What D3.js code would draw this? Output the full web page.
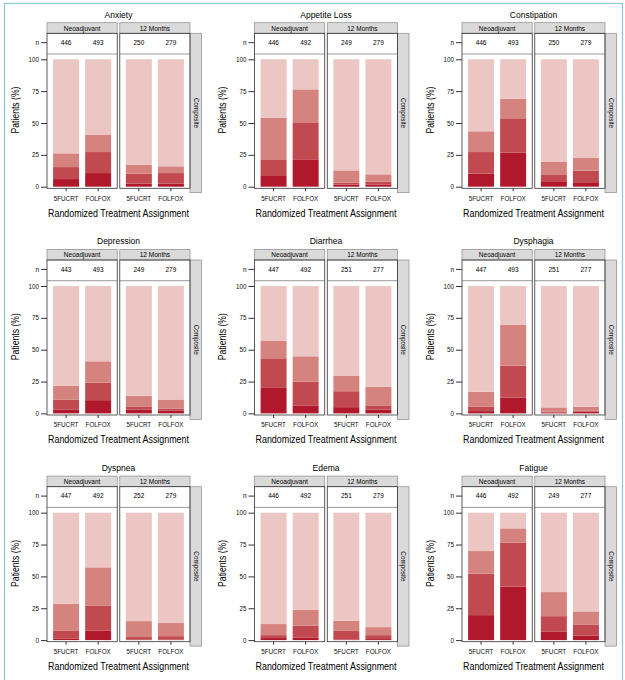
<!DOCTYPE html>
<html>
<head>
<meta charset="utf-8">
<script src="https://cdn.jsdelivr.net/npm/d3@7"></script>
<style>
  body { margin: 0; background: #fff; }
  svg { display: block; font-family: "Liberation Sans", Arial, Helvetica, sans-serif; }
</style>
</head>
<body>
<div id="chart"></div>
<script>
// symptoms in reading order (3 x 3 grid)
const symptoms = ["Anxiety", "Appetite Loss", "Constipation", "Depression", "Diarrhea",
  "Dysphagia", "Dyspnea", "Edema", "Fatigue"];
const timepoints = ["Neoadjuvant", "12 Months"];
const arms = ["5FUCRT", "FOLFOX"];
const yTicks = [0, 25, 50, 75, 100];

// each row: [Neoadjuvant 5FUCRT, Neoadjuvant FOLFOX, 12 Months 5FUCRT, 12 Months FOLFOX]
const nPatients = [
  [446, 493, 250, 279],
  [446, 492, 249, 279],
  [446, 493, 250, 279],
  [443, 493, 249, 279],
  [447, 492, 251, 277],
  [447, 493, 251, 277],
  [447, 492, 252, 279],
  [446, 492, 251, 279],
  [446, 492, 249, 277]
];

// percent of patients per level (bottom to top of each bar)
const veryMuch = [
  [6.0, 10.7, 2.4, 2.4],
  [8.4, 21.5, 1.6, 1.8],
  [10.2, 26.7, 3.7, 2.9],
  [3.1, 10.4, 3.1, 2.3],
  [20.0, 6.3, 4.9, 2.9],
  [1.8, 12.5, 0.8, 1.3],
  [1.0, 7.3, 0.5, 0.5],
  [1.6, 1.8, 0.5, 0.8],
  [19.6, 41.9, 6.5, 3.4]
];
const quiteABit = [
  [9.4, 16.5, 7.8, 8.3],
  [13.1, 28.5, 1.5, 2.1],
  [17.0, 27.0, 5.5, 9.7],
  [7.8, 13.8, 2.4, 1.3],
  [22.7, 18.7, 12.5, 3.4],
  [3.4, 25.0, 0.5, 1.0],
  [6.6, 19.9, 1.9, 2.6],
  [2.3, 9.5, 7.1, 3.1],
  [32.5, 34.5, 12.3, 8.9]
];
const aLittle = [
  [10.8, 13.4, 7.1, 5.3],
  [32.7, 26.4, 9.7, 5.8],
  [16.3, 15.4, 10.2, 9.9],
  [10.7, 16.7, 8.3, 7.3],
  [14.1, 19.8, 12.3, 14.5],
  [11.7, 32.0, 3.4, 2.9],
  [20.9, 29.9, 12.5, 10.3],
  [8.7, 12.3, 7.6, 6.3],
  [17.8, 11.3, 18.9, 10.2]
];
const notAtAll = [
  [73.8, 59.4, 82.7, 84.0],
  [45.8, 23.6, 87.2, 90.3],
  [56.5, 30.9, 80.6, 77.5],
  [78.4, 59.1, 86.2, 89.1],
  [43.2, 55.2, 70.3, 79.2],
  [83.1, 30.5, 95.3, 94.8],
  [71.5, 42.9, 85.1, 86.6],
  [87.4, 76.4, 84.8, 89.8],
  [30.1, 12.3, 62.3, 77.5]
];

const levels = ["veryMuch", "quiteABit", "aLittle", "notAtAll"];
const levelColors = ["#b0182c", "#c14a50", "#d5837e", "#ecc6c2"];

const width = 625, height = 680;
const colStep = 207.5, rowStep = 226.7;

const svg = d3.select("#chart").append("svg")
  .attr("width", width)
  .attr("height", height);

// light blue frame round the figure
svg.append("rect")
  .attr("x", 4.5).attr("y", 3.5)
  .attr("width", 618).attr("height", 700)
  .attr("fill", "none")
  .attr("stroke", "#8fc3d8")
  .attr("stroke-width", 1.2);

// panel geometry (local coords)
const facetX = d3.scaleBand().domain(timepoints).range([47, 190]).paddingInner(0.035);
const armX = d3.scaleBand().domain(arms).range([0, facetX.bandwidth()]).padding(0.19);
const y = d3.scaleLinear().domain([0, 100]).range([186.7, 59.3]);
const color = d3.scaleOrdinal().domain(levels).range(levelColors);
const stack = d3.stack().keys(levels);

const stripTop = 22.7, stripBot = 33.3, nBot = 54, boxBot = 188.3;

symptoms.forEach((name, si) => {
  const g = svg.append("g")
    .attr("transform", `translate(${(si % 3) * colStep}, ${Math.floor(si / 3) * rowStep})`);

  // title
  g.append("text")
    .attr("x", (facetX.range()[0] + facetX.range()[1]) / 2)
    .attr("y", 17.7)
    .attr("text-anchor", "middle")
    .style("font-size", "8.5px")
    .text(name);

  // composite strip on the right
  g.append("rect")
    .attr("x", 190).attr("y", stripBot)
    .attr("width", 11.5).attr("height", 192.7 - stripBot)
    .attr("fill", "#dadada")
    .attr("stroke", "#8a8a8a")
    .attr("stroke-width", 0.7);
  g.append("text")
    .attr("transform", `translate(193.8, ${(stripBot + 192.7) / 2}) rotate(90)`)
    .attr("text-anchor", "middle")
    .style("font-size", "6.3px")
    .text("Composite");

  timepoints.forEach((tp, ti) => {
    const fx = facetX(tp);
    const fw = facetX.bandwidth();
    const fg = g.append("g").attr("transform", `translate(${fx}, 0)`);

    // strip
    fg.append("rect")
      .attr("x", 0).attr("y", stripTop)
      .attr("width", fw).attr("height", stripBot - stripTop)
      .attr("fill", "#dadada")
      .attr("stroke", "#8a8a8a")
      .attr("stroke-width", 0.7);
    fg.append("text")
      .attr("x", fw / 2).attr("y", 30.6)
      .attr("text-anchor", "middle")
      .style("font-size", "6.5px")
      .text(tp);

    // bars
    const rows = arms.map((arm, ai) => {
      const k = ti * 2 + ai;
      return {
        arm,
        veryMuch: veryMuch[si][k],
        quiteABit: quiteABit[si][k],
        aLittle: aLittle[si][k],
        notAtAll: notAtAll[si][k]
      };
    });
    const series = stack(rows);
    fg.selectAll(".layer")
      .data(series)
      .enter()
      .append("g")
      .attr("class", "layer")
      .attr("fill", d => color(d.key))
      .selectAll("rect")
      .data(d => d)
      .enter()
      .append("rect")
      .attr("x", d => armX(d.data.arm))
      .attr("y", d => y(d[1]))
      .attr("width", armX.bandwidth())
      .attr("height", d => y(d[0]) - y(d[1]));

    // n counts
    fg.selectAll(".ncount")
      .data(arms)
      .enter()
      .append("text")
      .attr("class", "ncount")
      .attr("x", d => armX(d) + armX.bandwidth() / 2)
      .attr("y", 45)
      .attr("text-anchor", "middle")
      .style("font-size", "6.5px")
      .text((d, ai) => nPatients[si][ti * 2 + ai]);

    // panel box + divider under n row
    fg.append("rect")
      .attr("x", 0).attr("y", stripBot)
      .attr("width", fw).attr("height", boxBot - stripBot)
      .attr("fill", "none")
      .attr("stroke", "#333")
      .attr("stroke-width", 0.8);
    fg.append("line")
      .attr("x1", 0).attr("x2", fw)
      .attr("y1", nBot).attr("y2", nBot)
      .attr("stroke", "#555")
      .attr("stroke-width", 0.6);

    // x axis
    const xAxis = fg.append("g")
      .attr("transform", `translate(0, ${boxBot})`)
      .call(d3.axisBottom(armX).tickSize(3).tickPadding(5));
    xAxis.select(".domain").remove();
    xAxis.selectAll("text").style("font-size", "6.3px").attr("fill", "#111");
    xAxis.selectAll("line").attr("stroke", "#333");
  });

  // y axis
  const yAxis = g.append("g")
    .attr("transform", `translate(47, 0)`)
    .call(d3.axisLeft(y).tickValues(yTicks).tickSize(6).tickPadding(2));
  yAxis.select(".domain").remove();
  yAxis.selectAll("text").style("font-size", "6.3px").attr("fill", "#111");
  yAxis.selectAll("line").attr("stroke", "#333");

  // "n" row label
  g.append("line")
    .attr("x1", 41).attr("x2", 47)
    .attr("y1", 42.7).attr("y2", 42.7)
    .attr("stroke", "#333");
  g.append("text")
    .attr("x", 39).attr("y", 45)
    .attr("text-anchor", "end")
    .style("font-size", "6.5px")
    .text("n");

  // axis titles
  g.append("text")
    .attr("transform", "translate(18.5, 110) rotate(-90)")
    .attr("text-anchor", "middle")
    .attr("textLength", 47)
    .attr("lengthAdjust", "spacingAndGlyphs")
    .style("font-size", "10px")
    .text("Patients (%)");
  g.append("text")
    .attr("x", 118.5).attr("y", 216.5)
    .attr("text-anchor", "middle")
    .attr("textLength", 141)
    .attr("lengthAdjust", "spacingAndGlyphs")
    .style("font-size", "10px")
    .text("Randomized Treatment Assignment");
});
</script>
</body>
</html>
